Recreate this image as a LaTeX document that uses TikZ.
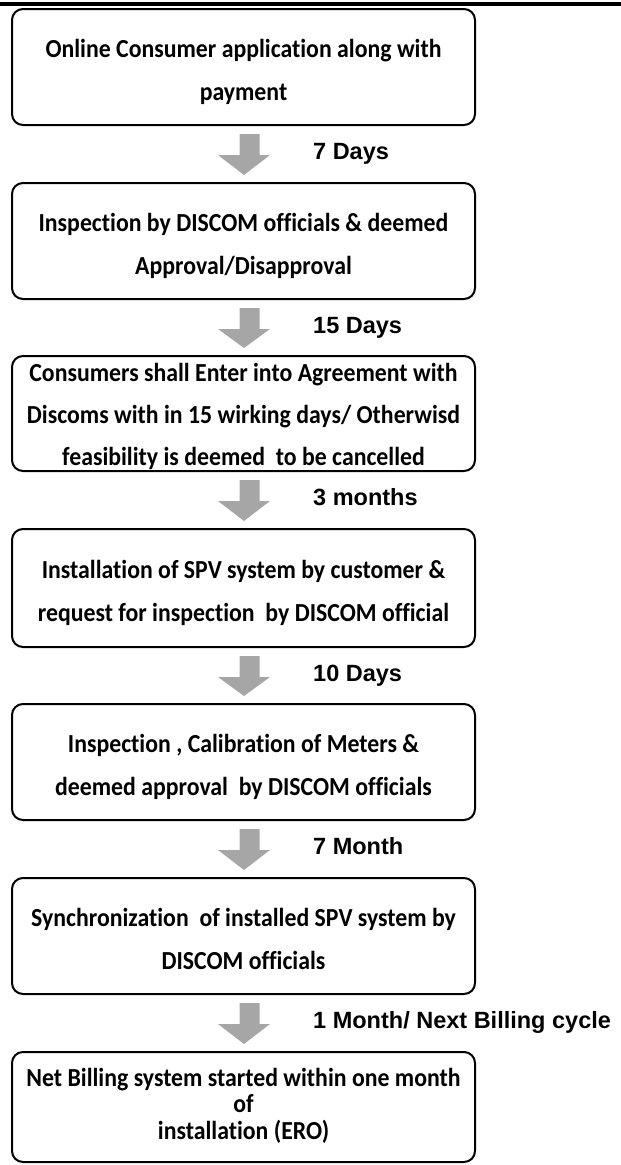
\documentclass[tikz,border=0pt]{standalone}
\usepackage{fontspec}
\newfontfamily\boxfont[FakeStretch=0.915,Ligatures=NoCommon]{Carlito}
\newfontfamily\labfont{Liberation Sans}
\usetikzlibrary{calc}
\definecolor{arrowgray}{RGB}{166,166,166}
\newcommand\tightlines{\lineskiplimit=-100pt\relax}
\tikzset{
  stage/.style={draw=black, line width=2pt, rounded corners=11pt,
    minimum width=463pt, minimum height=116pt, inner sep=0pt, align=center,
    text height=66pt, text depth=0pt,
    font=\boxfont\bfseries\fontsize{26}{43}\selectfont\tightlines},
  dur/.style={anchor=base west, inner sep=0pt,
    font=\labfont\bfseries\fontsize{23.5}{28}\selectfont},
  blockarrow/.style={fill=arrowgray, draw=none}
}
\newcommand\blockarr[2]{%
  \fill[blockarrow] ($(#1.south)+(-4,8)$) -- ($(#1.south)+(16,8)$) -- ($(#1.south)+(16,29)$)
    -- ($(#1.south)+(26.5,29)$) -- ($(#2.north)+(0.5,-7)$) -- ($(#1.south)+(-25.5,29)$)
    -- ($(#1.south)+(-4,29)$) -- cycle;}
\begin{document}
\begin{tikzpicture}[x=1pt,y=-1pt]
\useasboundingbox (0,0) rectangle (621,1165);
\fill[black] (0,1.5) rectangle (621,6);
\node[stage] (b1) at (243.5,67) {Online Consumer application along with\\payment};
\node[stage] (b2) at (243.5,241) {Inspection by DISCOM officials \& deemed\\Approval/Disapproval};
\node[stage, minimum height=115pt, text height=103pt, font=\boxfont\bfseries\fontsize{26}{42}\selectfont\tightlines] (b3) at (243.5,413.5)
  {Consumers shall Enter into Agreement with\\Discoms with in 15 wirking days/ Otherwisd\\feasibility is deemed\ \ to be cancelled};
\node[stage, minimum height=118pt] (b4) at (243.5,588) {Installation of SPV system by customer \&\\request for inspection\ \ by DISCOM official};
\node[stage] (b5) at (243.5,762) {Inspection , Calibration of Meters \&\\deemed approval\ \ by DISCOM officials};
\node[stage] (b6) at (243.5,936) {Synchronization\ \ of installed SPV system by\\DISCOM officials};
\node[stage, minimum height=110pt, text height=64pt, font=\boxfont\bfseries\fontsize{26}{26}\selectfont\tightlines] (b7) at (243.5,1107)
  {Net Billing system started within one month\\of\\[1pt]installation (ERO)};
\blockarr{b1}{b2}
\blockarr{b2}{b3}
\blockarr{b3}{b4}
\blockarr{b4}{b5}
\blockarr{b5}{b6}
\blockarr{b6}{b7}
\node[dur] (l1) at ($(b1.south)+(69.5,33)$) {7 Days};
\node[dur] (l2) at ($(b2.south)+(69.5,33)$) {15 Days};
\node[dur] (l3) at ($(b3.south)+(69.5,33)$) {3 months};
\node[dur] (l4) at ($(b4.south)+(69.5,33)$) {10 Days};
\node[dur] (l5) at ($(b5.south)+(69.5,33)$) {7 Month};
\node[dur] (l6) at ($(b6.south)+(69.5,33)$) {1 Month/ Next Billing cycle};
\end{tikzpicture}
\end{document}
